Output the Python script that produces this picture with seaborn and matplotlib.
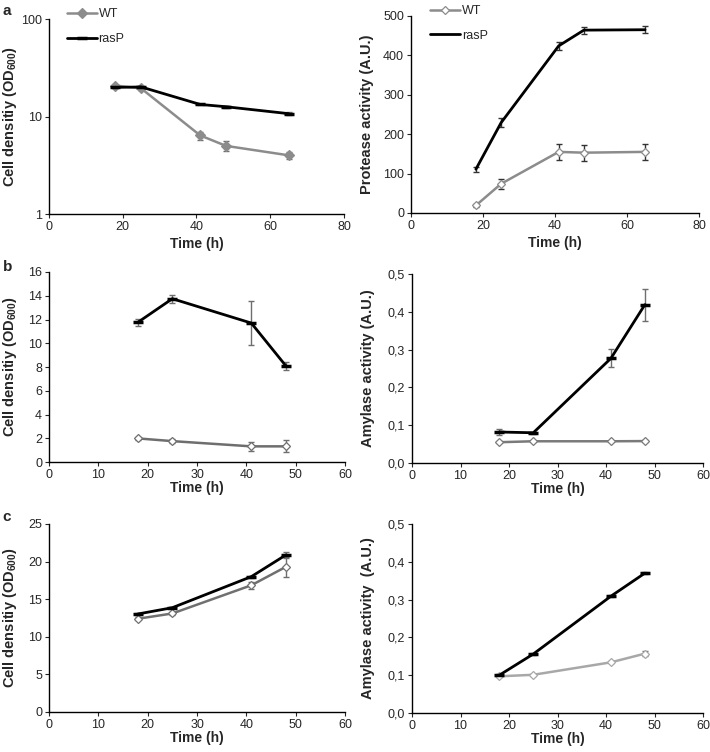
import numpy as np
import pandas as pd
import matplotlib
matplotlib.use("Agg")
import matplotlib.pyplot as plt
import seaborn as sns
from matplotlib.ticker import FixedLocator, FixedFormatter, NullLocator

sns.set_style("ticks")
plt.rcParams["font.family"] = ["Liberation Sans", "DejaVu Sans"]
plt.rcParams["mathtext.fontset"] = "custom"
plt.rcParams["mathtext.rm"] = "Liberation Sans"
plt.rcParams["mathtext.bf"] = "Liberation Sans:bold"

# 데이터
time_a = [18, 25, 41, 48, 65]
time_bc = [18, 25, 41, 48]

# a: cell density (log)
a_od_wt = [20.8, 19.4, 6.4, 5.0, 4.0]
a_od_wt_err = [0.5, 0.6, 0.6, 0.6, 0.3]
a_od_rasp = [19.9, 20.1, 13.3, 12.6, 10.7]
a_od_rasp_err = [0.4, 0.4, 0.3, 0.3, 0.3]

# a: protease activity
a_prot_wt = [19, 74, 155, 153, 155]
a_prot_wt_err = [3, 13, 20, 20, 20]
a_prot_rasp = [111, 229, 424, 464, 465]
a_prot_rasp_err = [6, 12, 10, 9, 9]

# b: cell density
b_od_wt = [1.99, 1.76, 1.32, 1.32]
b_od_wt_err = [0.1, 0.15, 0.4, 0.5]
b_od_rasp = [11.76, 13.75, 11.7, 8.1]
b_od_rasp_err = [0.3, 0.35, 1.85, 0.35]

# b: amylase activity
b_amy_wt = [0.055, 0.0575, 0.0575, 0.058]
b_amy_wt_err = [0.002, 0.002, 0.002, 0.002]
b_amy_rasp = [0.082, 0.080, 0.277, 0.419]
b_amy_rasp_err = [0.008, 0.003, 0.024, 0.042]

# c: cell density
c_od_wt = [12.4, 13.1, 16.85, 19.3]
c_od_wt_err = [0.2, 0.2, 0.5, 1.35]
c_od_rasp = [13.03, 13.87, 18.0, 20.88]
c_od_rasp_err = [0.1, 0.1, 0.15, 0.35]

# c: amylase activity
c_amy_wt = [0.097, 0.101, 0.134, 0.157]
c_amy_wt_err = [0.003, 0.003, 0.003, 0.006]
c_amy_rasp = [0.100, 0.156, 0.309, 0.370]
c_amy_rasp_err = [0.002, 0.002, 0.003, 0.002]

od_label = r"Cell densitiy (OD$_{\mathbf{600}}$)"

fig = plt.figure(figsize=(7.1, 7.52), dpi=100)
ax_a1 = fig.add_axes([0.069, 0.7154, 0.4155, 0.2593])
ax_a2 = fig.add_axes([0.579, 0.7168, 0.4056, 0.262])
ax_b1 = fig.add_axes([0.069, 0.3856, 0.417, 0.2527])
ax_b2 = fig.add_axes([0.5803, 0.3843, 0.41, 0.2513])
ax_c1 = fig.add_axes([0.069, 0.0532, 0.417, 0.25])
ax_c2 = fig.add_axes([0.5803, 0.0519, 0.41, 0.2513])


def draw(ax, t, wt, wt_err, rasp, rasp_err, wt_fill="white", wt_color="#7f7f7f",
         ecolor="#6e6e6e", wt_ms=4, rasp_marker="_"):
    ax.errorbar(t, rasp, yerr=rasp_err, fmt="none", ecolor=ecolor, elinewidth=1,
                capsize=2.5, capthick=1, zorder=2)
    ax.errorbar(t, wt, yerr=wt_err, fmt="none", ecolor=ecolor, elinewidth=1,
                capsize=2.5, capthick=1, zorder=2)
    df_w = pd.DataFrame({"t": t, "v": wt})
    df_r = pd.DataFrame({"t": t, "v": rasp})
    sns.lineplot(data=df_w, x="t", y="v", ax=ax, color=wt_color, lw=1.8,
                 marker="D", markersize=wt_ms, markerfacecolor=wt_fill,
                 markeredgecolor=wt_color, markeredgewidth=0.9, label="WT", zorder=3)
    sns.lineplot(data=df_r, x="t", y="v", ax=ax, color="black", lw=2.0,
                 marker=rasp_marker, markersize=7, markeredgecolor="black",
                 markeredgewidth=2.5, label="rasP", zorder=4)


def style(ax, xmax, xstep, ylabel, yfs, lx, xpad):
    sns.despine(ax=ax)
    ax.set_xlim(0, xmax)
    ax.set_xticks(np.arange(0, xmax + 1, xstep))
    ax.set_xlabel("Time (h)", fontsize=10, fontweight="bold", labelpad=xpad)
    ax.set_ylabel(ylabel, fontsize=yfs, fontweight="bold")
    ax.yaxis.set_label_coords(lx, 0.5)
    ax.tick_params(labelsize=9, length=3, width=0.8, pad=2)
    for s in ["left", "bottom"]:
        ax.spines[s].set_linewidth(1.0)
        ax.spines[s].set_color("black")


draw(ax_a1, time_a, a_od_wt, a_od_wt_err, a_od_rasp, a_od_rasp_err,
     wt_fill="#8c8c8c", wt_color="#8c8c8c", wt_ms=5.5)
draw(ax_a2, time_a, a_prot_wt, a_prot_wt_err, a_prot_rasp, a_prot_rasp_err,
     wt_color="#8c8c8c", ecolor="#333333", rasp_marker="None")
draw(ax_b1, time_bc, b_od_wt, b_od_wt_err, b_od_rasp, b_od_rasp_err, wt_color="#6e6e6e")
draw(ax_b2, time_bc, b_amy_wt, b_amy_wt_err, b_amy_rasp, b_amy_rasp_err, wt_color="#7a7a7a")
draw(ax_c1, time_bc, c_od_wt, c_od_wt_err, c_od_rasp, c_od_rasp_err, wt_color="#707070")
draw(ax_c2, time_bc, c_amy_wt, c_amy_wt_err, c_amy_rasp, c_amy_rasp_err, wt_color="#a8a8a8")

style(ax_a1, 80, 20, od_label, 10.5, -0.1, 3)
ax_a1.set_yscale("log")
ax_a1.set_ylim(1, 100)
ax_a1.yaxis.set_major_locator(FixedLocator([1, 10, 100]))
ax_a1.yaxis.set_major_formatter(FixedFormatter(["1", "10", "100"]))
ax_a1.yaxis.set_minor_locator(NullLocator())

style(ax_a2, 80, 20, "Protease activity (A.U.)", 10.5, -0.13, 3)
ax_a2.set_ylim(0, 500)
ax_a2.set_yticks(range(0, 501, 100))

style(ax_b1, 60, 10, od_label, 10.5, -0.1, 0)
ax_b1.set_ylim(0, 16)
ax_b1.set_yticks(range(0, 17, 2))

amy_ticks = [0, 0.1, 0.2, 0.3, 0.4, 0.5]
amy_labels = ["0,0", "0,1", "0,2", "0,3", "0,4", "0,5"]
style(ax_b2, 60, 10, "Amylase activity (A.U.)", 10.5, -0.127, 0)
ax_b2.set_ylim(0, 0.5)
ax_b2.set_yticks(amy_ticks)
ax_b2.set_yticklabels(amy_labels)

style(ax_c1, 60, 10, od_label, 10.5, -0.1, 0)
ax_c1.set_ylim(0, 25)
ax_c1.set_yticks(range(0, 26, 5))

style(ax_c2, 60, 10, "Amylase activity  (A.U.)", 10.5, -0.127, 0)
ax_c2.set_ylim(0, 0.5)
ax_c2.set_yticks(amy_ticks)
ax_c2.set_yticklabels(amy_labels)

# 범례: a 패널에만
for ax, bx in [(ax_a1, 0.045), (ax_a2, 0.05)]:
    ax.legend(loc="upper left", bbox_to_anchor=(bx, 1.08), frameon=False,
              fontsize=9, handlelength=2.4, handletextpad=0.1,
              labelspacing=1.0, borderaxespad=0)
for ax in [ax_b1, ax_b2, ax_c1, ax_c2]:
    ax.get_legend().remove()

fig.text(0.004, 0.985, "a", fontsize=11, fontweight="bold", va="center")
fig.text(0.004, 0.645, "b", fontsize=11, fontweight="bold", va="center")
fig.text(0.004, 0.313, "c", fontsize=11, fontweight="bold", va="center")

fig.savefig("out.png", dpi=100)
